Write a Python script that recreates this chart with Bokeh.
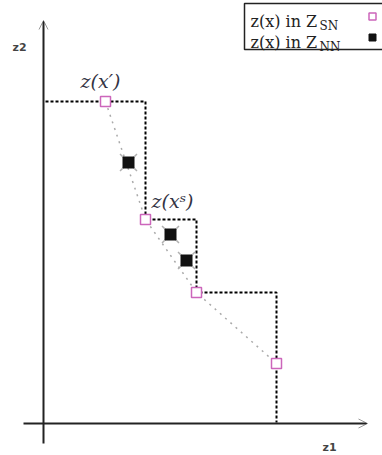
from bokeh.plotting import figure
from bokeh.models import Range1d, Arrow, OpenHead
from bokeh.core.properties import value
from bokeh.embed import file_html
from bokeh.resources import INLINE

# Objective vectors (z1, z2)
sn_z1 = [6.2, 10.2, 15.3, 23.3]
sn_z2 = [32.2, 20.4, 13.1, 6.0]
nn_z1 = [8.5, 12.7, 14.3]
nn_z2 = [26.1, 18.9, 16.3]

legend_labels = ["z(x) in Z", "z(x) in Z"]
legend_subs = ["SN", "NN"]
point_labels = ["z(x\u2032)", "z(x\u02e2)"]

PINK = "#cc66bb"


def X(px):
    return (px - 43) / 10.0


def Y(py):
    return (423 - py) / 10.0


p = figure(width=382, height=455, output_backend="svg", toolbar_location=None,
           x_range=Range1d(X(0), X(382)), y_range=Range1d(Y(455), Y(0)),
           x_axis_type=None, y_axis_type=None, min_border=0)
p.grid.visible = False
p.outline_line_color = None
p.background_fill_color = "white"

# axes with open arrowheads
p.add_layout(Arrow(end=OpenHead(size=9, line_color="#999", line_width=1),
                   x_start=0, y_start=Y(443), x_end=0, y_end=Y(20),
                   line_color="#222", line_width=2))
p.add_layout(Arrow(end=OpenHead(size=9, line_color="#999", line_width=1),
                   x_start=X(23), y_start=0, x_end=X(367), y_end=0,
                   line_color="#222", line_width=2))

# staircase of dominated region
sx = [0.2]
sy = [sn_z2[0]]
for i in range(1, len(sn_z1)):
    sx += [sn_z1[i], sn_z1[i]]
    sy += [sn_z2[i - 1], sn_z2[i]]
sx.append(sn_z1[-1])
sy.append(0.1)
p.line(sx, sy, line_color="black", line_width=2, line_dash="3 2")

# connecting line through supported points
p.line(sn_z1, sn_z2, line_color="#aaaaaa", line_width=1.5, line_dash="2 5")

# non-supported points
p.scatter(nn_z1, nn_z2, marker="x", size=24, line_color="#b0b0b0", line_width=1.5)
p.scatter(nn_z1, nn_z2, marker="square", size=11, fill_color="#111111", line_color="#111111")

# supported points
p.scatter(sn_z1, sn_z2, marker="square", size=10, fill_color="white",
          line_color=PINK, line_width=1.5)

# point labels
p.text([X(80), X(151)], [Y(80), Y(200)], text=point_labels, text_font=value("DejaVu Serif"),
       text_font_style="italic", text_font_size="19px", text_color="#333344",
       text_baseline="middle", text_align="left")

# axis labels
p.text([X(12), X(322)], [Y(47), Y(447)], text=["z2", "z1"], text_font=value("DejaVu Sans"),
       text_font_size="11px", text_font_style="bold", text_color="#444444",
       text_baseline="middle", text_align="left")

# legend
p.quad(left=X(244), right=X(390), top=Y(3), bottom=Y(49), fill_color="white",
       line_color="#222222", line_width=1.5)
p.text([X(250), X(250)], [Y(21), Y(42)], text=legend_labels, text_font=value("DejaVu Serif"),
       text_font_size="16px", text_color="#222222", text_baseline="alphabetic")
p.text([X(319), X(319)], [Y(25), Y(46)], text=legend_subs, text_font=value("DejaVu Serif"),
       text_font_size="12px", text_color="#222222", text_baseline="alphabetic")
p.scatter([X(372)], [Y(16)], marker="square", size=7, fill_color="white",
          line_color=PINK, line_width=1.5)
p.scatter([X(372)], [Y(37)], marker="square", size=7, fill_color="#111111",
          line_color="#111111")

open("out.html", "w").write(file_html(p, INLINE))
